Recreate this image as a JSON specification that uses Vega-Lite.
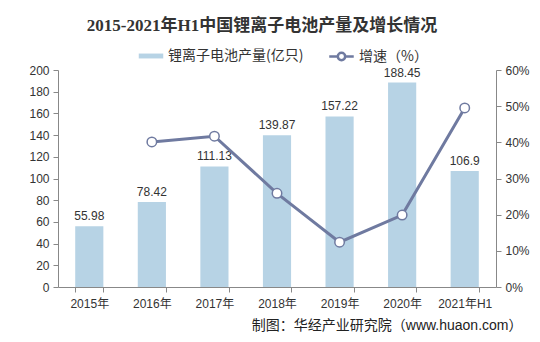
{
  "$schema": "https://vega.github.io/schema/vega-lite/v6.json",
  "autosize": "none",
  "width": 438,
  "height": 217,
  "padding": {"left": 58, "top": 70, "right": 44, "bottom": 55},
  "background": "white",
  "config": {"view": {"stroke": null}, "font": "Liberation Sans, Noto Sans CJK SC"},
  "title": {
    "text": "2015-2021年H1中国锂离子电池产量及增长情况",
    "font": "Liberation Serif, Noto Sans CJK SC",
    "fontSize": 17,
    "fontWeight": "bold",
    "color": "#333333",
    "anchor": "middle",
    "dx": -15,
    "offset": 8
  },
  "data": {
    "values": [
      {"year": "2015年", "output": 55.98, "growth": null},
      {"year": "2016年", "output": 78.42, "growth": 40.1},
      {"year": "2017年", "output": 111.13, "growth": 41.7},
      {"year": "2018年", "output": 139.87, "growth": 25.9},
      {"year": "2019年", "output": 157.22, "growth": 12.4},
      {"year": "2020年", "output": 188.45, "growth": 19.9},
      {"year": "2021年H1", "output": 106.9, "growth": 49.5}
    ]
  },
  "encoding": {
    "x": {
      "field": "year",
      "type": "nominal",
      "sort": null,
      "scale": {"paddingInner": 0.55, "paddingOuter": 0.275},
      "axis": {
        "labelAngle": 0,
        "labelFontSize": 12,
        "labelColor": "#333333",
        "labelPadding": 6,
        "domainColor": "#888888",
        "tickColor": "#888888",
        "tickBand": "extent",
        "tickSize": 5,
        "title": "制图：华经产业研究院（www.huaon.com）",
        "titleFontSize": 14,
        "titleFontWeight": "normal",
        "titleColor": "#222222",
        "titleAlign": "right",
        "titleAnchor": null,
        "titleX": 464,
        "titleY": 38,
        "titleBaseline": "middle"
      }
    }
  },
  "layer": [
    {
      "encoding": {
        "y": {
          "field": "output",
          "type": "quantitative",
          "scale": {"domain": [0, 200]},
          "axis": {
            "values": [0, 20, 40, 60, 80, 100, 120, 140, 160, 180, 200],
            "labelOverlap": false,
            "grid": false,
            "title": null,
            "labelFontSize": 12,
            "labelColor": "#333333",
            "domainColor": "#888888",
            "tickColor": "#888888",
            "tickSize": 5,
            "labelPadding": 4
          }
        }
      },
      "layer": [
        {
          "mark": {"type": "bar", "color": "#b7d3e5"},
          "encoding": {
            "fill": {
              "datum": "锂离子电池产量(亿只)",
              "type": "nominal",
              "scale": {"range": ["#b7d3e5"]},
              "legend": {
                "orient": "none",
                "legendX": 80,
                "legendY": -27,
                "title": null,
                "symbolType": "M-1,-0.2H1V0.2H-1Z",
                "symbolSize": 600,
                "labelFontSize": 14,
                "labelColor": "#333333",
                "labelFont": "Noto Sans CJK SC"
              }
            }
          }
        },
        {
          "mark": {"type": "text", "dy": -10, "fontSize": 12, "color": "#333333"},
          "encoding": {
            "text": {"field": "output", "type": "quantitative"}
          }
        }
      ]
    },
    {
      "transform": [{"filter": "datum.growth != null"}],
      "encoding": {
        "y": {
          "field": "growth",
          "type": "quantitative",
          "scale": {"domain": [0, 60]},
          "axis": {
            "orient": "right",
            "values": [0, 10, 20, 30, 40, 50, 60],
            "labelOverlap": false,
            "labelExpr": "datum.value + '%'",
            "grid": false,
            "title": null,
            "labelFontSize": 12,
            "labelColor": "#333333",
            "domainColor": "#888888",
            "tickColor": "#888888",
            "tickSize": 5,
            "labelPadding": 4
          }
        }
      },
      "layer": [
        {
          "mark": {"type": "line", "color": "#6f7aa0", "strokeWidth": 3},
          "encoding": {
            "stroke": {
              "datum": "增速（%）",
              "type": "nominal",
              "scale": {"range": ["#6f7aa0"]},
              "legend": {
                "orient": "none",
                "legendX": 270,
                "legendY": -27,
                "title": null,
                "symbolType": "M-1,0H-0.3M0.3,0H1M0.3,0A0.3,0.3 0 1,1 -0.3,0A0.3,0.3 0 1,1 0.3,0",
                "symbolSize": 600,
                "symbolStrokeWidth": 2.5,
                "symbolFillColor": "white",
                "labelFontSize": 14,
                "labelColor": "#333333",
                "labelFont": "Noto Sans CJK SC"
              }
            }
          }
        },
        {
          "mark": {"type": "point", "shape": "circle", "size": 90, "filled": true, "fill": "white", "stroke": "#6f7aa0", "strokeWidth": 1.5, "opacity": 1}
        }
      ]
    }
  ],
  "resolve": {"scale": {"y": "independent", "fill": "independent", "stroke": "independent"}}
}
